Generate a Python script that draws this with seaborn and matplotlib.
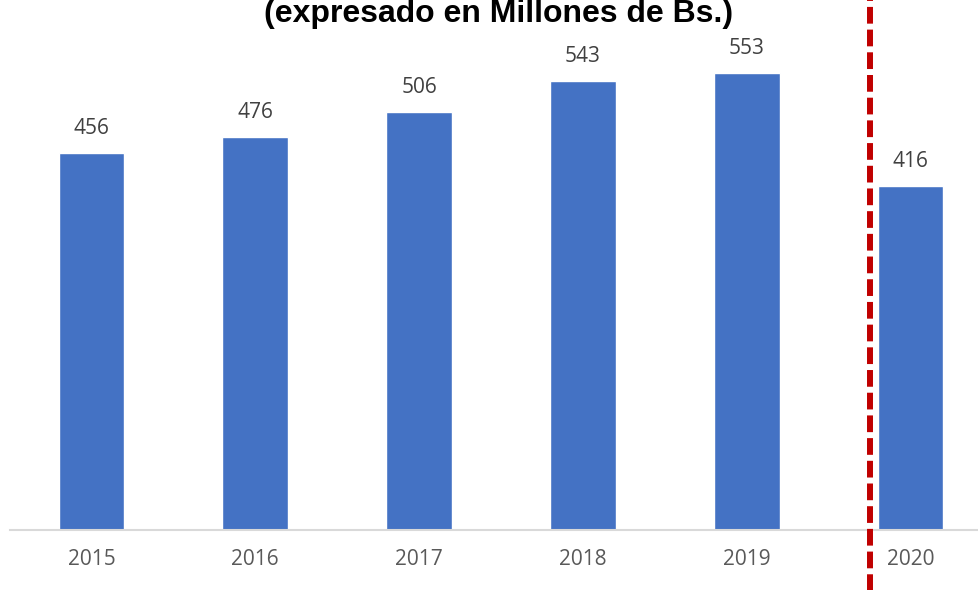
import matplotlib
matplotlib.use("Agg")
import matplotlib.pyplot as plt
import seaborn as sns
import pandas as pd

years = ["2015", "2016", "2017", "2018", "2019", "2020"]
values = [456, 476, 506, 543, 553, 416]

BAR_COLOR = "#4472C4"


def main():
    sns.set_style("white")
    plt.rcParams["font.family"] = ["Open Sans", "DejaVu Sans"]

    df = pd.DataFrame({"year": years, "value": values})

    fig = plt.figure(figsize=(9.79, 5.9), dpi=100)
    ax = fig.add_axes([9.5 / 979, 60 / 590, 983 / 979, 529 / 590])

    sns.barplot(data=df, x="year", y="value", color=BAR_COLOR, width=0.4,
                saturation=1, ax=ax)

    ax.set_ylim(0, 640)
    ax.set_xlim(-0.5, 5.5)
    for bar, v in zip(ax.patches, values):
        ax.annotate(f"{v}", (bar.get_x() + bar.get_width() / 2, v),
                    xytext=(0, 10), textcoords="offset points",
                    ha="center", va="bottom", fontsize=15, color="#404040")

    # separator between historic and 2020
    ax.axvline(4.753, ymin=-0.2, ymax=1.2, color="#C00000", lw=4.3,
               ls=(0, (2.8, 1.0)), clip_on=False, zorder=5)

    for side in ["top", "left", "right"]:
        ax.spines[side].set_visible(False)
    ax.spines["bottom"].set_color("#D9D9D9")
    ax.spines["bottom"].set_linewidth(1.5)
    ax.set_yticks([])
    ax.set_xlabel("")
    ax.set_ylabel("")
    ax.tick_params(axis="x", length=0, pad=14, labelsize=15, labelcolor="#595959")

    # title is partly cut off at the top edge, as in the original slide
    fig.text(499 / 979, 1 - 22 / 590, "(expresado en Millones de Bs.)",
             ha="center", va="baseline", fontsize=23, fontweight="bold",
             family="Liberation Sans", color="black")

    fig.savefig("out.png", dpi=100)


if __name__ == "__main__":
    main()
